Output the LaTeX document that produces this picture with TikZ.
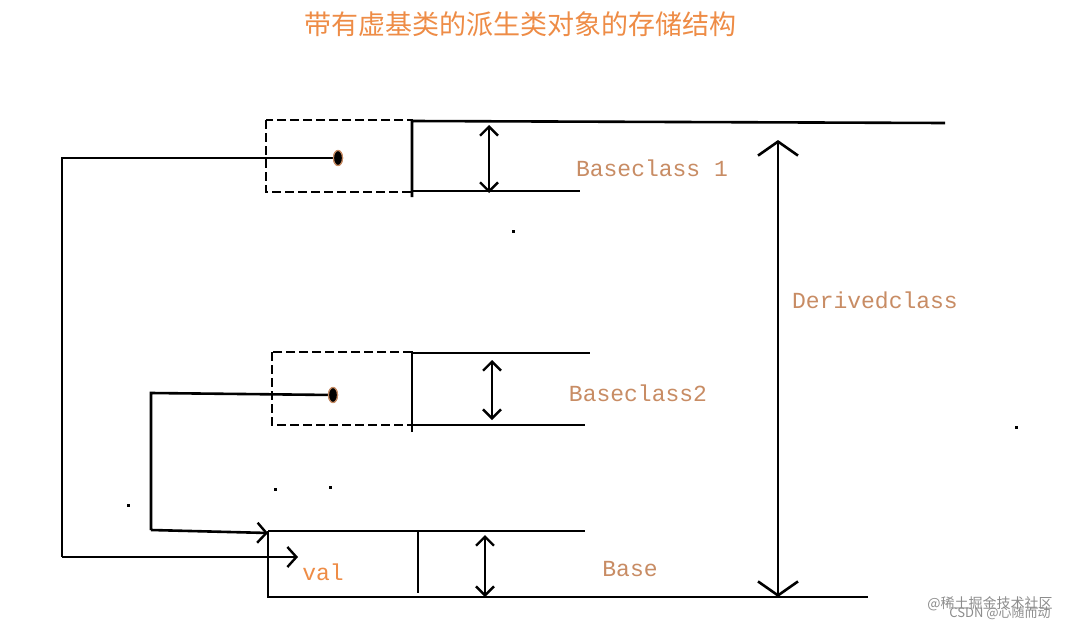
\documentclass[tikz,border=0pt]{standalone}
\usepackage{fontspec}
\setmonofont{Liberation Mono}
\newfontfamily\cjk{Noto Sans CJK SC}
\usetikzlibrary{arrows.meta,shapes.geometric}
\definecolor{ttl}{RGB}{238,140,70}
\definecolor{tan}{RGB}{200,140,100}
\tikzset{
  ln/.style={line width=2.6pt},
  dsh/.style={line width=2.6pt, dash pattern=on 9pt off 4pt},
  barb/.style={-{Straight Barb[length=9pt,width=20pt,line width=2.4pt]}},
  dbl/.style={line width=2.4pt,{Straight Barb[length=9pt,width=18pt,line width=2.4pt]}-{Straight Barb[length=9pt,width=18pt,line width=2.4pt]}},
  lbl/.style={font=\ttfamily\fontsize{23}{23}\selectfont, text=tan},
  dot/.style={ellipse, fill=black, draw=tan, line width=1.2pt, minimum width=9pt, minimum height=15pt, inner sep=0pt},
  sp/.style={fill=black, inner sep=0pt, minimum size=3pt}
}
\begin{document}
\begin{tikzpicture}[x=1pt,y=-1pt]
\useasboundingbox[fill=white] (0,0) rectangle (1088,632);
\node[text=ttl, font=\cjk\fontsize{27}{27}\selectfont] (title) at (520,24) {带有虚基类的派生类对象的存储结构};
% top box
\draw[dsh] (266,120) rectangle (412,192);
\draw[ln] (412,197) -- (412,121) -- (945,123);
\draw[ln] (412,191) -- (580,191);
\coordinate (a1t) at (489,125); \coordinate (a1b) at (489,193);
\draw[dbl] (a1t) -- (a1b);
\node[dot] (d1) at (338,158) {};
\node[lbl] (bc1) at (652,168) {Baseclass 1};
% derived
\coordinate (dt) at (778,140); \coordinate (db) at (778,597);
\draw[line width=2.6pt,{Straight Barb[length=14pt,width=40pt,line width=2.6pt]}-{Straight Barb[length=14pt,width=40pt,line width=2.6pt]}] (dt) -- (db);
\node[lbl] (dc) at (875,300) {Derivedclass};
% middle box
\draw[dsh] (272,352) rectangle (412,425);
\draw[ln] (412,432) -- (412,352);
\draw[ln] (412,353) -- (590,353);
\draw[ln] (412,425) -- (585,425);
\coordinate (a2t) at (492,360); \coordinate (a2b) at (492,420);
\draw[dbl] (a2t) -- (a2b);
\node[dot] (d2) at (333,395) {};
\node[lbl] (bc2) at (638,393) {Baseclass2};
% bottom box
\draw[ln] (268,531) -- (585,531);
\draw[ln] (268,531) -- (268,597) -- (868,597);
\draw[ln] (418,531) -- (418,593);
\coordinate (a3t) at (485,535); \coordinate (a3b) at (485,597);
\draw[dbl] (a3t) -- (a3b);
\node[font=\ttfamily\fontsize{23}{23}\selectfont, text=ttl] (val) at (323,572) {val};
\node[lbl] (base) at (630,569) {Base};
% pointers
\coordinate (p2) at (268,533);
\coordinate (p1) at (298,557);
\draw[ln] (d1.center) -- (62,158) -- (62,557);
\draw[ln,barb] (62,557) -- (p1);
\draw[ln] (d2.center) -- (151,393) -- (151,530);
\draw[ln,barb] (151,530) -- (p2);
\node[dot] at (338,158) {};
\node[dot] at (333,395) {};
% stray dots
\node[sp] (s1) at (513,231) {};
\node[sp] (s2) at (275,489) {};
\node[sp] (s3) at (330,487) {};
\node[sp] (s4) at (128,505) {};
\node[sp] (s5) at (1016,427) {};
% watermarks
\node[text=black!45, font=\cjk\fontsize{14}{14}\selectfont] (w1) at (990,604) {@稀土掘金技术社区};
\node[text=black!45, font=\cjk\fontsize{13}{13}\selectfont] (w2) at (1000,613) {CSDN @心随而动};
\end{tikzpicture}
\end{document}
